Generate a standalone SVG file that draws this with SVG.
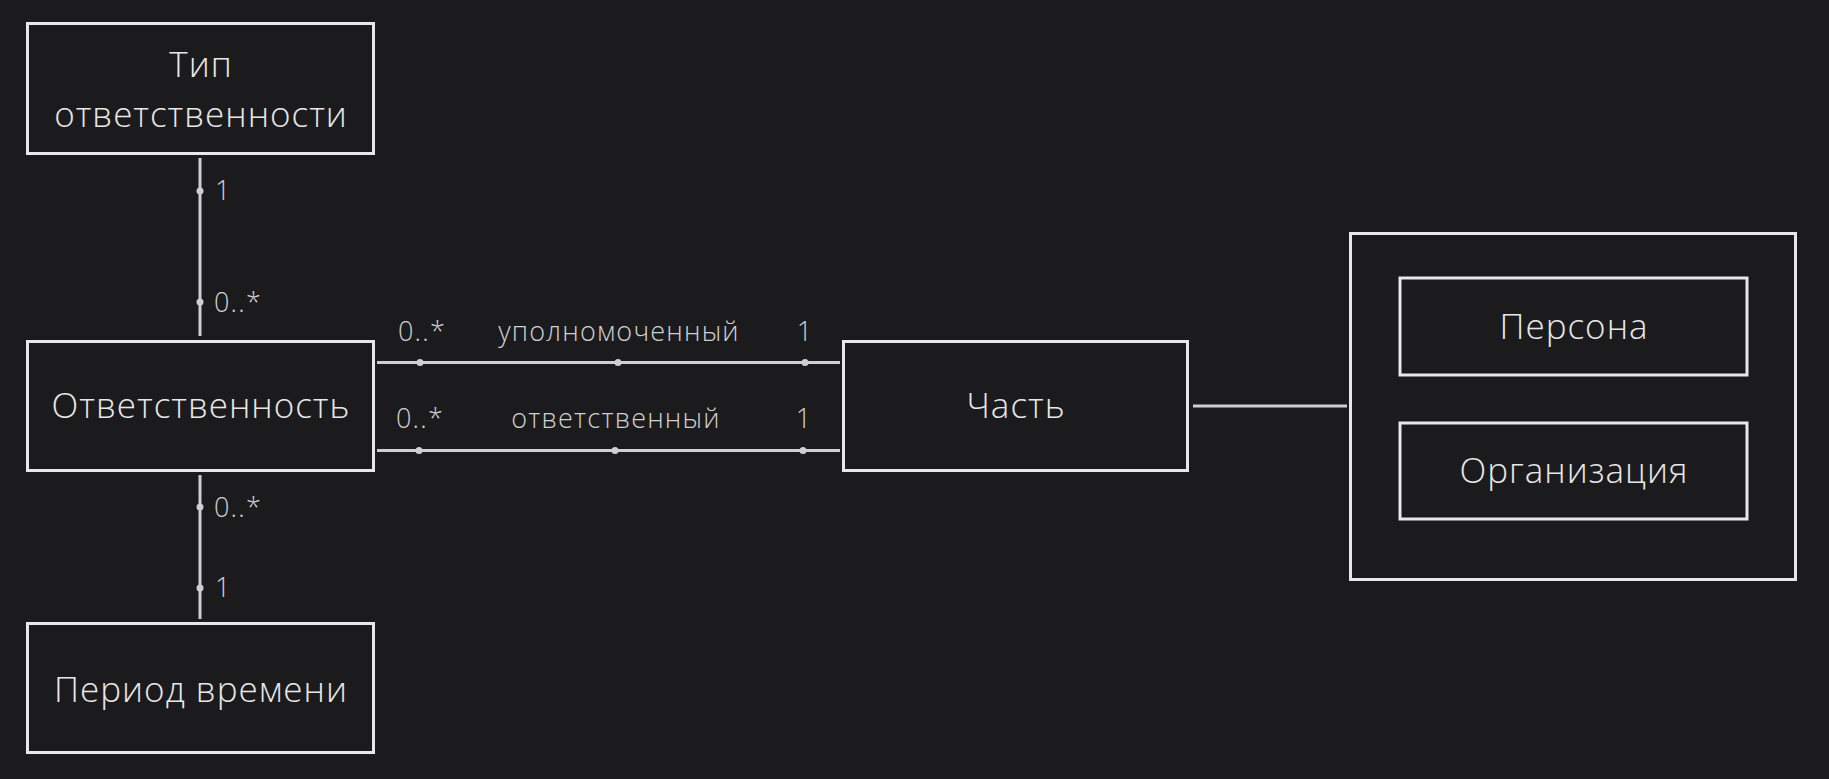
<svg xmlns="http://www.w3.org/2000/svg" width="1829" height="779" viewBox="0 0 1829 779">
<style>
.node rect{fill:#1b1b1d;stroke:#e8e8e8;stroke-width:3}
.nt{font-family:"Open Sans","Noto Sans",sans-serif;font-weight:300;font-size:35px;letter-spacing:1px;fill:#e8e8e8;text-anchor:middle}
.edge line{stroke:#cfcfcf;stroke-width:3}
.edge circle{fill:#cfcfcf}
.lb{font-family:"Open Sans","Noto Sans",sans-serif;font-weight:300;font-size:27px;letter-spacing:1.2px;fill:#d0d0d0}
.mid{text-anchor:middle}
</style>
<rect width="1829" height="779" fill="#1b1b1d"/>
<g id="connectors" class="edge">
<line x1="200" y1="158" x2="200" y2="336"/>
<circle cx="200" cy="191" r="3.5"/><circle cx="200" cy="302" r="3.5"/>
<text class="lb" x="215" y="200">1</text>
<text class="lb" x="214" y="312">0..*</text>
<line x1="200" y1="475" x2="200" y2="619"/>
<circle cx="200" cy="507" r="3.5"/><circle cx="200" cy="588" r="3.5"/>
<text class="lb" x="214" y="517">0..*</text>
<text class="lb" x="215" y="597">1</text>
<line x1="377" y1="362.5" x2="840" y2="362.5"/>
<circle cx="420" cy="362.5" r="3.5"/><circle cx="618" cy="362.5" r="3.5"/><circle cx="805" cy="362.5" r="3.5"/>
<text class="lb" x="398" y="341">0..*</text>
<text class="lb mid" x="619" y="341">уполномоченный</text>
<text class="lb mid" x="805" y="341">1</text>
<line x1="377" y1="450.5" x2="840" y2="450.5"/>
<circle cx="419" cy="450.5" r="3.5"/><circle cx="615" cy="450.5" r="3.5"/><circle cx="803" cy="450.5" r="3.5"/>
<text class="lb" x="396" y="428">0..*</text>
<text class="lb mid" x="616" y="428">ответственный</text>
<text class="lb mid" x="804" y="428">1</text>
<line x1="1193" y1="406" x2="1347" y2="406"/>
</g>
<g id="node-type" class="node">
<rect x="27.5" y="23.5" width="346" height="130"/>
<text class="nt" x="201" y="77">Тип</text>
<text class="nt" x="201" y="127">ответственности</text>
</g>
<g id="node-resp" class="node">
<rect x="27.5" y="341.5" width="346" height="129"/>
<text class="nt" x="201" y="418">Ответственность</text>
</g>
<g id="node-period" class="node">
<rect x="27.5" y="623.5" width="346" height="129"/>
<text class="nt" x="201" y="702">Период времени</text>
</g>
<g id="node-party" class="node">
<rect x="843.5" y="341.5" width="344" height="129"/>
<text class="nt" x="1016" y="418">Часть</text>
</g>
<g id="node-group" class="node">
<rect x="1350.5" y="233.5" width="445" height="346"/>
</g>
<g id="node-person" class="node">
<rect x="1400" y="278" width="347" height="97"/>
<text class="nt" x="1574" y="339">Персона</text>
</g>
<g id="node-org" class="node">
<rect x="1400" y="423" width="347" height="96"/>
<text class="nt" x="1574" y="483">Организация</text>
</g>
</svg>
